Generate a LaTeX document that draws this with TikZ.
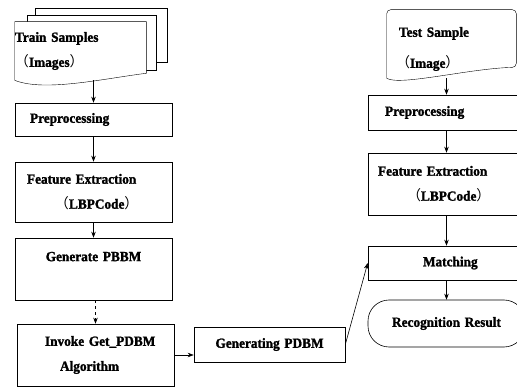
\documentclass[tikz,border=0pt]{standalone}
\usepackage{fontspec}
\setmainfont{Liberation Serif}[BoldFeatures={FakeBold=1.5,FakeStretch=0.95}]
\newfontfamily\cjk{Noto Sans CJK SC}
\usetikzlibrary{arrows.meta,positioning,backgrounds}
\newcommand{\openp}{{\cjk\mdseries （}}
\newcommand{\closep}{{\cjk\mdseries ）}}

\begin{document}
\begin{tikzpicture}[x=1pt,y=1pt,>={Stealth[length=6pt,width=4.5pt]},line width=0.6pt]
	\useasboundingbox (0,0) rectangle (517,-387);
	\clip (0,0) rectangle (517,-387);

	\tikzset{box/.style={draw,fill=white,rectangle,inner xsep=8pt,inner ysep=0pt,text width=141pt,align=left,font=\fontsize{14}{25}\selectfont\bfseries}}
	\tikzset{sample/.style={rectangle,inner sep=0pt,align=left,font=\fontsize{14}{25}\selectfont\bfseries}}

	% training side
	\node[sample,text width=131pt,minimum height=58pt] (train) at (80.5,-51) {Train Samples\\\openp Images\closep};
	\node[box,minimum height=33pt]  (pre1)  at (93.5,-119.5) {\hspace*{7pt}Preprocessing};
	\node[box,minimum height=60pt]  (feat1) at (93.5,-192)   {\hspace*{4pt}Feature Extraction\\\hspace*{32pt}\openp LBPCode\closep};
	\node[box,minimum height=62pt,align=center] (gen) at (93.5,-269) {Generate PBBM\\\mbox{}};
	\node[box,minimum height=62pt]  (inv)   at (95.5,-355)   {\hspace*{20pt}Invoke Get\_PDBM\\\hspace*{35pt}Algorithm};
	\node[box,minimum height=35pt,text width=135pt,align=center] (gen2) at (269.5,-344.5) {Generating PDBM};

	% test side
	\node[sample,text width=129pt,minimum height=58pt,font=\fontsize{14}{31}\selectfont\bfseries] (test) at (451.5,-49) {\hspace*{12pt}Test Sample\\\hspace*{9pt}\openp Image\closep};
	\node[box,minimum height=35pt]  (pre2)  at (446.5,-112.5) {\hspace*{9pt}Preprocessing};
	\node[box,minimum height=62pt]  (feat2) at (446.5,-184)   {\hspace*{2pt}Feature Extraction\\\hspace*{31pt}\openp LBPCode\closep};
	\node[box,minimum height=34pt]  (match) at (446.5,-263)   {\hspace*{47pt}Matching};
	\node[box,minimum height=47pt,rounded corners=21pt,align=center] (rec) at (446.5,-323.5) {Recognition Result};

	% document outlines
	\begin{scope}[on background layer]
		\draw[fill=white] ([shift={(20,13)}]train.north west) rectangle ([shift={(21,18)}]train.south east);
		\draw[fill=white] ([shift={(12,6)}]train.north west) rectangle ([shift={(10,10)}]train.south east);
		\draw[fill=white] (train.south west) -- (train.north west) -- (train.north east) -- ([yshift=7pt]train.south east)
			.. controls +(-41,-5) and +(30,-12) .. (train.south west) -- cycle;
		\draw[fill=white] (test.south west) [rounded corners=4pt] -- ([yshift=10pt]test.north west) -- ([yshift=10pt]test.north east) -- ([yshift=11pt]test.south east)
			[sharp corners] .. controls +(-46,-1) and +(13,-8) .. (test.south west) -- cycle;
	\end{scope}

	\draw[->] (pre1.north |- train.south) -- (pre1.north);
	\draw[->] (pre1.south) -- (feat1.north);
	\draw[->] (feat1.south) -- (gen.north);
	\draw[->,dashed] (inv.north |- gen.south) -- (inv.north);
	\draw[->] (inv.east) -- (inv.east -| gen2.west);
	\draw[->] (gen2.east) -- (match.west);

	\draw[->] (pre2.north |- test.south) -- (pre2.north);
	\draw[->] (pre2.south) -- (feat2.north);
	\draw[->] (feat2.south) -- (match.north);
	\draw[->] (match.south) -- (rec.north);
\end{tikzpicture}
\end{document}
